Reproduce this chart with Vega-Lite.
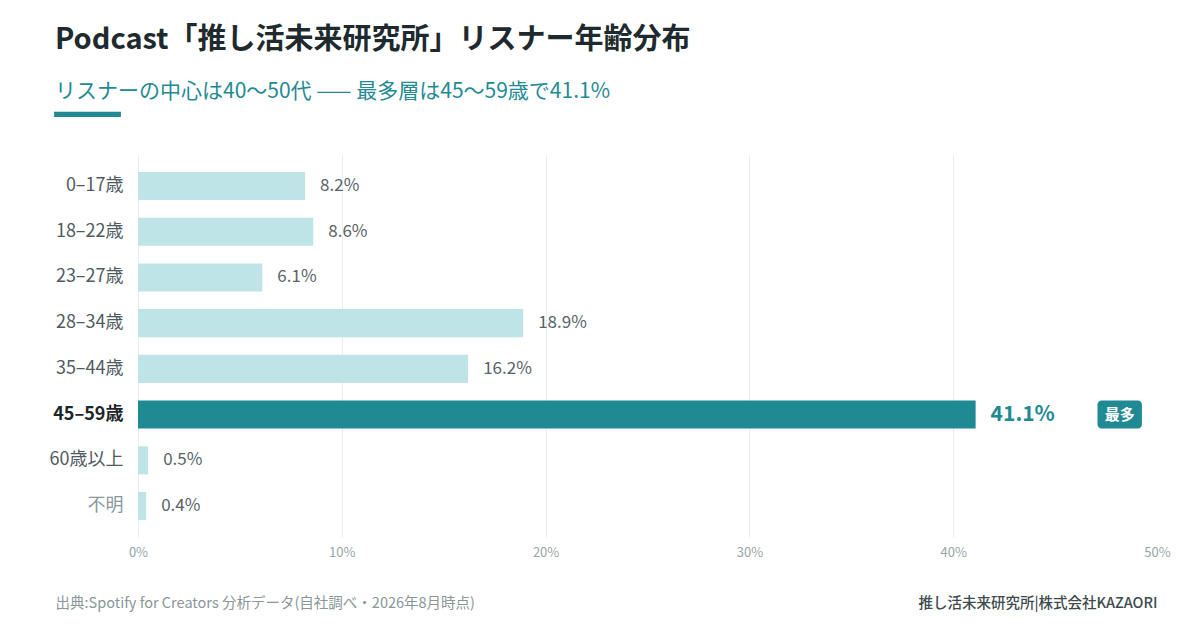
{
  "$schema": "https://vega.github.io/schema/vega-lite/v6.json",
  "width": 1019,
  "height": 382,
  "autosize": {"type": "none"},
  "padding": {"left": 138, "top": 155, "right": 43, "bottom": 93},
  "background": "white",
  "config": {
    "font": "Noto Sans CJK JP",
    "view": {"stroke": null}
  },
  "title": {
    "text": "Podcast「推し活未来研究所」リスナー年齢分布",
    "subtitle": "リスナーの中心は40〜50代 —— 最多層は45〜59歳で41.1%",
    "anchor": "start",
    "frame": "group",
    "dx": -83,
    "offset": -26.5,
    "font": "Noto Sans CJK JP",
    "fontSize": 29,
    "fontWeight": "bold",
    "color": "#1e2a2e",
    "subtitleFont": "Noto Sans CJK JP",
    "subtitleFontSize": 21,
    "subtitleColor": "#1f8a94",
    "subtitlePadding": 26
  },
  "data": {
    "values": [
      {"age": "0–17歳", "pct": 0.082},
      {"age": "18–22歳", "pct": 0.086},
      {"age": "23–27歳", "pct": 0.061},
      {"age": "28–34歳", "pct": 0.189},
      {"age": "35–44歳", "pct": 0.162},
      {"age": "45–59歳", "pct": 0.411},
      {"age": "60歳以上", "pct": 0.005},
      {"age": "不明", "pct": 0.004}
    ]
  },
  "encoding": {
    "x": {
      "field": "pct",
      "type": "quantitative",
      "scale": {"domain": [0, 0.5]},
      "axis": {
        "values": [0, 0.1, 0.2, 0.3, 0.4, 0.5],
        "format": ".0%",
        "ticks": false,
        "domain": false,
        "grid": true,
        "gridColor": {
          "condition": {"test": "datum.value >= 0.5", "value": "transparent"},
          "value": "#e9eff0"
        },
        "labelFlush": false,
        "labelFontSize": 13,
        "labelColor": "#98a5a8",
        "labelPadding": 9,
        "title": "出典:Spotify for Creators 分析データ(自社調べ・2026年8月時点)",
        "titleFont": "Noto Sans CJK JP",
        "titleFontSize": 14.5,
        "titleFontWeight": "normal",
        "titleColor": "#8a9699",
        "titleAlign": "left",
        "titleBaseline": "middle",
        "titleX": -83,
        "titleY": 66
      }
    }
  },
  "layer": [
    {
      "mark": {"type": "bar"},
      "encoding": {
        "y": {
          "field": "age",
          "type": "nominal",
          "sort": null,
          "scale": {"paddingInner": 0.387, "paddingOuter": 0.37},
          "axis": {
            "orient": "left",
            "ticks": false,
            "domain": false,
            "grid": false,
            "labelFontSize": 18,
            "labelPadding": 15,
            "labelFont": "Noto Sans CJK JP",
            "labelColor": {
              "condition": [
                {"test": "datum.value === '45–59歳'", "value": "#1c2529"},
                {"test": "datum.value === '不明'", "value": "#8b979a"}
              ],
              "value": "#4f5b5f"
            },
            "labelFontWeight": {
              "condition": {"test": "datum.value === '45–59歳'", "value": "bold"},
              "value": "normal"
            },
            "title": "—",
            "titleFont": "DejaVu Sans",
            "titleFontSize": 74,
            "titleFontWeight": "normal",
            "titleColor": "#1f8a94",
            "titleAngle": 0,
            "titleAlign": "left",
            "titleBaseline": "alphabetic",
            "titleX": -88,
            "titleY": -20.5
          }
        },
        "color": {
          "condition": {"test": "datum.age === '45–59歳'", "value": "#1f8a94"},
          "value": "#bfe4e8"
        }
      }
    },
    {
      "transform": [{"filter": "datum.age !== '45–59歳'"}],
      "mark": {"type": "text", "align": "left", "baseline": "middle", "dx": 15, "fontSize": 17, "color": "#58646a"},
      "encoding": {
        "y": {
          "field": "age",
          "type": "nominal",
          "sort": null,
          "axis": {
            "orient": "right",
            "labels": false,
            "ticks": false,
            "domain": false,
            "grid": false,
            "title": "推し活未来研究所|株式会社KAZAORI",
            "titleFont": "Noto Sans CJK JP",
            "titleFontSize": 14.5,
            "titleFontWeight": 500,
            "titleColor": "#3d4a4e",
            "titleAngle": 0,
            "titleAlign": "right",
            "titleBaseline": "middle",
            "titleX": 0,
            "titleY": 448
          }
        },
        "text": {"field": "pct", "format": ".1%"}
      }
    },
    {
      "transform": [{"filter": "datum.age === '45–59歳'"}],
      "mark": {"type": "text", "align": "left", "baseline": "middle", "dx": 15, "fontSize": 21, "fontWeight": "bold", "color": "#1f8a94"},
      "encoding": {
        "y": {"field": "age", "type": "nominal", "sort": null, "axis": null},
        "text": {"field": "pct", "format": ".1%"}
      }
    },
    {
      "transform": [{"filter": "datum.age === '45–59歳'"}],
      "mark": {"type": "bar", "cornerRadius": 4, "color": "#1f8a94"},
      "encoding": {
        "y": {"field": "age", "type": "nominal", "sort": null, "axis": null},
        "x": {"datum": 0.4708, "type": "quantitative"},
        "x2": {"datum": 0.4926}
      }
    },
    {
      "transform": [{"filter": "datum.age === '45–59歳'"}],
      "mark": {"type": "text", "align": "center", "baseline": "middle", "fontSize": 15, "fontWeight": "bold", "color": "white"},
      "encoding": {
        "y": {"field": "age", "type": "nominal", "sort": null, "axis": null},
        "x": {"datum": 0.4817, "type": "quantitative"},
        "text": {"value": "最多"}
      }
    }
  ],
  "resolve": {"axis": {"y": "independent"}}
}
